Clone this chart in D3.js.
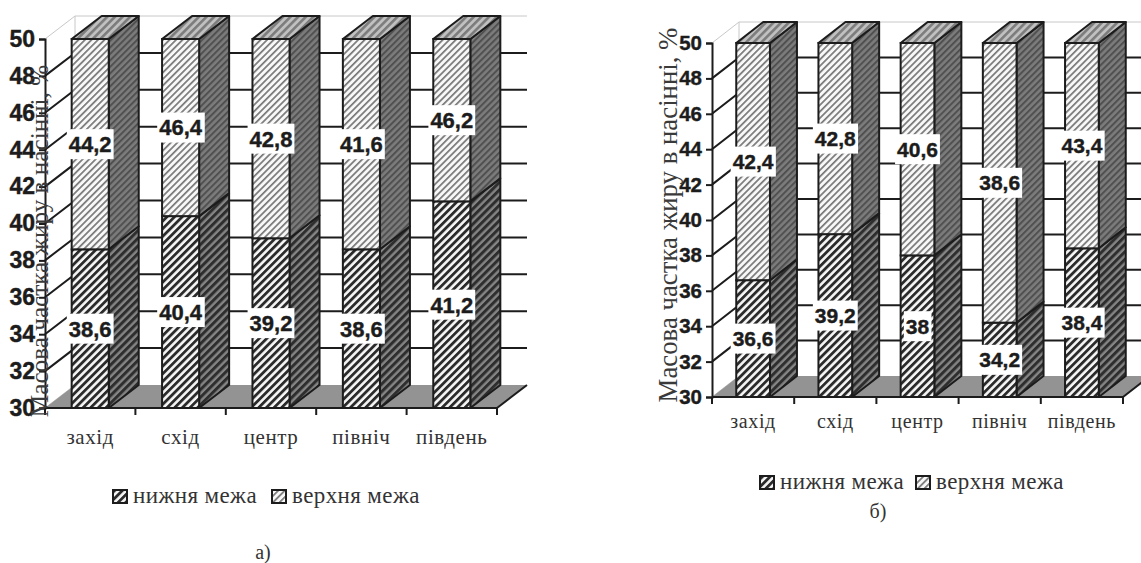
<!DOCTYPE html>
<html><head><meta charset="utf-8">
<script src="https://cdn.jsdelivr.net/npm/d3@7"></script>
<style>html,body{margin:0;padding:0;background:#fff}svg{display:block}</style></head>
<body><svg id="c" width="1141" height="563"></svg>
<script>
const categories = ["захід","схід","центр","північ","південь"];
const seriesNames = ["нижня межа","верхня межа"];
const lowerA = [38.6,40.4,39.2,38.6,41.2];
const upperA = [44.2,46.4,42.8,41.6,46.2];
const labelsLowerA = ["38,6","40,4","39,2","38,6","41,2"];
const labelsUpperA = ["44,2","46,4","42,8","41,6","46,2"];
const lowerB = [36.6,39.2,38,34.2,38.4];
const upperB = [42.4,42.8,40.6,38.6,43.4];
const labelsLowerB = ["36,6","39,2","38","34,2","38,4"];
const labelsUpperB = ["42,4","42,8","40,6","38,6","43,4"];
const yTicks = d3.range(30,51,2);
const axisTitle = "Масова частка жиру в насінні, %";

const svg = d3.select("#c");
const INK = "#1c1c1c";
const defs = svg.append("defs");
function hatch(id,bg,fg,period,w){
  const p = defs.append("pattern").attr("id",id).attr("patternUnits","userSpaceOnUse")
    .attr("width",period).attr("height",period).attr("patternTransform","rotate(-45)");
  p.append("rect").attr("width",period).attr("height",period).attr("fill",bg);
  p.append("rect").attr("width",period).attr("height",w).attr("fill",fg);
}
hatch("lowFront","#f6f6f6","#2b2b2b",5.4,2.8);
hatch("upFront","#f8f8f8","#777",4.6,1.7);
hatch("lowSide","#858585","#2e2e2e",5.4,3);
hatch("upSide","#7c7c7c","#505050",4.6,2);
hatch("upTop","#c0c0c0","#7c7c7c",5.4,2.6);

function chart(o){
  const g = svg.append("g");
  const x = d3.scaleBand().domain(categories).range([o.x0,o.x1]).paddingInner(0.59).paddingOuter(0.295);
  const y = d3.scaleLinear().domain([30,50]).range([o.y0,o.y1]).clamp(true);
  const rows = categories.map((c,i)=>({c,lower:o.lower[i],upper:o.upper[i],ll:o.ll[i],lu:o.lu[i]}));
  const stacked = d3.stack().keys(["lower","upper"])(rows);
  const dx=o.dx, dy=o.dy, xr=o.x1;

  // walls
  g.append("polyline").attr("fill","none").attr("stroke","#c8c8c8").attr("stroke-width",1)
    .attr("points",[[o.x0,o.y1],[o.x0+dx,o.y1-dy],[Math.min(xr+dx,1141),o.y1-dy]].join(" "));
  g.append("polyline").attr("fill","none").attr("stroke","#c8c8c8").attr("stroke-width",1)
    .attr("points",[[o.x0,o.y0],[o.x0+dx,o.y0-dy],[o.x0+dx,o.y1-dy]].join(" "));
  // floor
  g.append("polygon").attr("fill","#939393")
    .attr("points",[[o.x0,o.y0],[o.x0+dx,o.y0-dy],[xr+dx,o.y0-dy],[xr,o.y0]].join(" "));
  // gridlines
  const grid = yTicks.filter(t=>t>30 && t<50);
  g.selectAll(".gl").data(grid).join("polyline").attr("fill","none").attr("stroke",INK).attr("stroke-width",2)
    .attr("points",t=>[[o.x0,y(t)],[o.x0+dx,y(t)-dy],[xr+dx,y(t)-dy]].join(" "));

  // bars
  const fronts=["lowFront","upFront"], sides=["lowSide","upSide"];
  stacked.forEach((s,si)=>{
    s.forEach((d,i)=>{
      const c=categories[i], xa=x(c), xb=xa+x.bandwidth(), ya=y(d[1]), yb=y(d[0]);
      g.append("polygon").attr("fill",`url(#${sides[si]})`).attr("stroke",INK).attr("stroke-width",2)
       .attr("stroke-linejoin","round")
       .attr("points",[[xb,ya],[xb+dx,ya-dy],[xb+dx,yb-dy],[xb,yb]].join(" "));
      if(si===1) g.append("polygon").attr("fill","url(#upTop)").attr("stroke",INK).attr("stroke-width",2)
       .attr("stroke-linejoin","round")
       .attr("points",[[xa,ya],[xa+dx,ya-dy],[xb+dx,ya-dy],[xb,ya]].join(" "));
      g.append("rect").attr("x",xa).attr("y",ya).attr("width",x.bandwidth()).attr("height",yb-ya)
       .attr("fill",`url(#${fronts[si]})`).attr("stroke",INK).attr("stroke-width",2);
    });
  });

  // axes
  const ay = g.append("g").attr("transform",`translate(${o.x0},0)`)
    .call(d3.axisLeft(y).tickValues(yTicks).tickSize(6).tickPadding(4).tickFormat(d3.format("d")));
  ay.select(".domain").attr("stroke",INK).attr("stroke-width",2);
  ay.selectAll("line").attr("stroke",INK).attr("stroke-width",2);
  ay.selectAll("text").attr("font-family","'Liberation Sans'").attr("font-weight","bold")
    .attr("font-size",o.tickFont).attr("fill",INK).attr("stroke",INK).attr("stroke-width",0.4);

  const ax = g.append("g").attr("transform",`translate(0,${o.y0})`);
  ax.append("line").attr("x1",o.x0).attr("x2",xr).attr("stroke",INK).attr("stroke-width",2);
  const step = x.step();
  ax.selectAll(".t").data(d3.range(0,6)).join("line")
    .attr("x1",i=>o.x0+i*step).attr("x2",i=>o.x0+i*step).attr("y2",7).attr("stroke",INK).attr("stroke-width",2);
  g.append("line").attr("x1",xr).attr("y1",o.y0).attr("x2",xr+dx).attr("y2",o.y0-dy).attr("stroke",INK).attr("stroke-width",2);
  ax.selectAll(".c").data(categories).join("text")
    .attr("x",c=>x(c)+x.bandwidth()/2+o.catShift).attr("y",o.catY-o.y0).attr("text-anchor","middle")
    .attr("font-family","'Liberation Serif'").attr("font-size",o.catFont).attr("letter-spacing",o.catSpacing).attr("fill","#333").text(c=>c);

  // data labels
  stacked.forEach((s,si)=>{
    s.forEach((d,i)=>{
      const c=categories[i], cx=x(c)+x.bandwidth()/2, cy=(y(d[0])+y(d[1]))/2;
      const txt = si===0?rows[i].ll:rows[i].lu;
      const lg=g.append("g");
      const t=lg.append("text").attr("x",cx).attr("y",cy).attr("dy","0.36em").attr("text-anchor","middle")
        .attr("font-family","'Liberation Sans'").attr("font-weight","bold").attr("font-size",o.labelFont)
        .attr("fill",INK).attr("stroke",INK).attr("stroke-width",0.4).text(txt);
      const b=t.node().getBBox();
      lg.insert("rect","text").attr("x",b.x-2).attr("y",cy-15).attr("width",b.width+4).attr("height",30).attr("fill","#fff");
    });
  });

  // title
  g.append("text").attr("transform",`translate(${o.titleX},${o.titleY}) rotate(-90)`).attr("text-anchor","middle")
    .attr("font-family","'Liberation Serif'").attr("font-size",o.titleFont).attr("fill","#3a3a3a").text(axisTitle);

  // legend
  const lg=g.append("g");
  [["lowFront",o.legX[0]],["upFront",o.legX[1]]].forEach(([pat,lx],i)=>{
    lg.append("rect").attr("x",lx).attr("y",o.legY-7).attr("width",14).attr("height",13)
      .attr("fill",`url(#${pat})`).attr("stroke",INK).attr("stroke-width",2);
    lg.append("text").attr("x",lx+20).attr("y",o.legY+6).attr("font-family","'Liberation Serif'")
      .attr("font-size",o.legFont).attr("letter-spacing",o.legSpacing).attr("fill","#333").text(seriesNames[i]);
  });
  g.append("text").attr("x",o.capX).attr("y",o.capY).attr("text-anchor","middle")
    .attr("font-family","'Liberation Serif'").attr("font-size",20).attr("fill","#333").text(o.caption);
}

chart({lower:lowerA,upper:upperA,ll:labelsLowerA,lu:labelsUpperA,
  x0:45,x1:497,y0:408,y1:39,dx:30,dy:23,tickFont:23,labelFont:22,
  catY:444,catFont:21,catSpacing:0.6,catShift:0,
  titleX:48,titleY:241,titleFont:25.2,
  legX:[113,272],legY:497,legFont:23,legSpacing:0.4,capX:263,capY:559,caption:"а)"});
chart({lower:lowerB,upper:upperB,ll:labelsLowerB,lu:labelsUpperB,
  x0:712,x1:1123,y0:397,y1:43,dx:27,dy:21,tickFont:20.5,labelFont:21,
  catY:428,catFont:20,catSpacing:0.6,catShift:0,
  titleX:677,titleY:215,titleFont:26.8,
  legX:[760,916],legY:483,legFont:23,legSpacing:0.4,capX:878,capY:518,caption:"б)"});
</script></body></html>
